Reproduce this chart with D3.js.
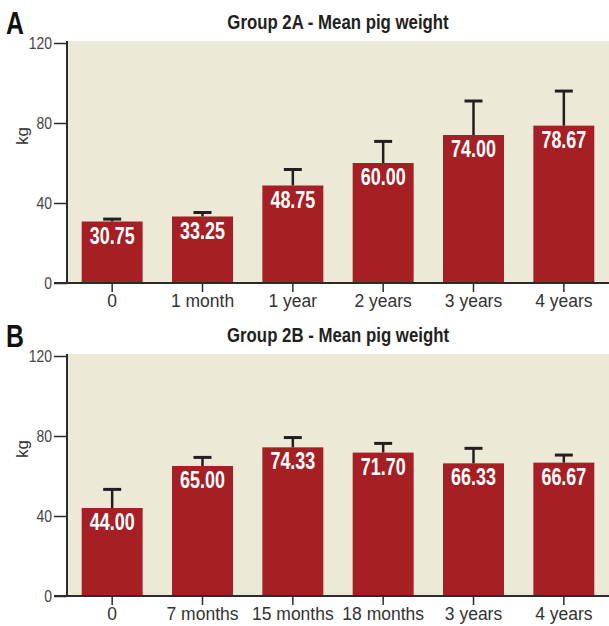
<!DOCTYPE html>
<html>
<head>
<meta charset="utf-8">
<script src="https://cdn.jsdelivr.net/npm/d3@7"></script>
<style>
  html, body { margin: 0; padding: 0; background: #ffffff; }
  svg { display: block; }
</style>
</head>
<body>
<svg id="chart" width="609" height="626"></svg>
<script>
// Group 2A: mean pig weight by age, with upper error bars (kg)
const groupACategories = ["0", "1 month", "1 year", "2 years", "3 years", "4 years"];
const groupAMeans = [30.75, 33.25, 48.75, 60.00, 74.00, 78.67];
const groupAErrors = [1.2, 2.0, 8.0, 10.8, 17.0, 17.3];

// Group 2B: mean pig weight by age, with upper error bars (kg)
const groupBCategories = ["0", "7 months", "15 months", "18 months", "3 years", "4 years"];
const groupBMeans = [44.00, 65.00, 74.33, 71.70, 66.33, 66.67];
const groupBErrors = [9.3, 4.3, 4.9, 4.6, 7.5, 3.8];

const yTicks = [0, 40, 80, 120];

const svg = d3.select("#chart");
const BAR = "#a51f24";
const BG = "#ece9d7";
const INK = "#231f20";
const SANS = "'Liberation Sans', Arial, sans-serif";

// Horizontally compressed text, to get a condensed face from the installed sans
function condensed(parent, x, y, str, o) {
  const t = parent.append("g")
    .attr("transform", `translate(${x},${y}) scale(${o.sx},1)`)
    .append("text")
    .attr("font-family", SANS)
    .attr("font-size", o.size)
    .attr("font-weight", o.weight || "normal")
    .attr("fill", o.fill)
    .attr("text-anchor", o.anchor || "start")
    .text(str);
  if (o.dy) t.attr("dy", o.dy);
  return t;
}

function panel(opts) {
  const { letter, title, categories, means, errors, top } = opts;
  const left = 67, right = 609;
  const plotTop = top, plotBottom = top + 240;

  const g = svg.append("g");

  const x = d3.scaleBand()
    .domain(categories)
    .range([left, right])
    .paddingInner(0.325)
    .paddingOuter(0.1625);

  const y = d3.scaleLinear().domain([0, 120]).range([plotBottom, plotTop]);

  // panel background
  g.append("rect")
    .attr("x", left).attr("y", plotTop - 2)
    .attr("width", right - left).attr("height", plotBottom - plotTop + 2)
    .attr("fill", BG);

  // panel letter and title
  condensed(g, 6, plotTop - 9.5, letter, { sx: 0.8, size: 31, weight: "bold", fill: "#111" });
  condensed(g, (left + right) / 2, plotTop - 14.5, title,
    { sx: 0.8, size: 21, weight: "bold", fill: INK, anchor: "middle" });

  // bars
  g.selectAll("rect.bar")
    .data(means)
    .join("rect")
    .attr("class", "bar")
    .attr("x", (d, i) => x(categories[i]))
    .attr("y", d => y(d))
    .attr("width", x.bandwidth())
    .attr("height", d => y(0) - y(d))
    .attr("fill", BAR);

  // error bars (upper whisker with cap)
  const eb = g.selectAll("g.err")
    .data(means.map((m, i) => ({ m, e: errors[i], c: categories[i] })))
    .join("g")
    .attr("class", "err");

  eb.append("line")
    .attr("x1", d => x(d.c) + x.bandwidth() / 2)
    .attr("x2", d => x(d.c) + x.bandwidth() / 2)
    .attr("y1", d => y(d.m))
    .attr("y2", d => y(d.m + d.e))
    .attr("stroke", INK).attr("stroke-width", 2.5);

  eb.append("line")
    .attr("x1", d => x(d.c) + x.bandwidth() / 2 - 9)
    .attr("x2", d => x(d.c) + x.bandwidth() / 2 + 9)
    .attr("y1", d => y(d.m + d.e))
    .attr("y2", d => y(d.m + d.e))
    .attr("stroke", INK).attr("stroke-width", 3);

  // value labels inside bars
  means.forEach((d, i) => {
    condensed(g, x(categories[i]) + x.bandwidth() / 2, y(d) + 22, d.toFixed(2),
      { sx: 0.78, size: 23, weight: "bold", fill: "#ffffff", anchor: "middle" });
  });

  // y axis
  const yAxis = g.append("g")
    .attr("transform", `translate(${left},0)`)
    .call(d3.axisLeft(y).tickValues(yTicks).tickSize(13).tickSizeOuter(0).tickFormat(() => ""));
  yAxis.select(".domain").attr("stroke", "#2b2b2b").attr("stroke-width", 2)
    .attr("d", `M0,${plotTop - 2}V${plotBottom}`);
  yAxis.selectAll(".tick line").attr("stroke", "#2b2b2b").attr("stroke-width", 1.5);
  yAxis.selectAll(".tick").each(function (d) {
    condensed(d3.select(this), -15, 0, String(d),
      { sx: 0.82, size: 17, fill: "#444", anchor: "end", dy: "0.35em" });
  });

  // x axis
  const xAxis = g.append("g")
    .attr("transform", `translate(0,${plotBottom})`)
    .call(d3.axisBottom(x).tickSize(9).tickSizeOuter(0).tickPadding(3));
  xAxis.select(".domain").attr("stroke", "#2b2b2b").attr("stroke-width", 2)
    .attr("d", `M${left - 13},0H${right}`);
  xAxis.selectAll(".tick line").attr("stroke", "#2b2b2b").attr("stroke-width", 1.5);
  xAxis.selectAll(".tick text")
    .attr("font-family", SANS)
    .attr("font-size", 17.5).attr("fill", "#333");

  // y axis unit label
  g.append("text")
    .attr("transform", `translate(28,${y(73.5)}) rotate(-90)`)
    .attr("text-anchor", "middle")
    .attr("font-family", SANS)
    .attr("font-size", 17).attr("fill", "#333")
    .text("kg");
}

panel({
  letter: "A",
  title: "Group 2A - Mean pig weight",
  categories: groupACategories,
  means: groupAMeans,
  errors: groupAErrors,
  top: 43
});

panel({
  letter: "B",
  title: "Group 2B - Mean pig weight",
  categories: groupBCategories,
  means: groupBMeans,
  errors: groupBErrors,
  top: 356
});
</script>
</body>
</html>
